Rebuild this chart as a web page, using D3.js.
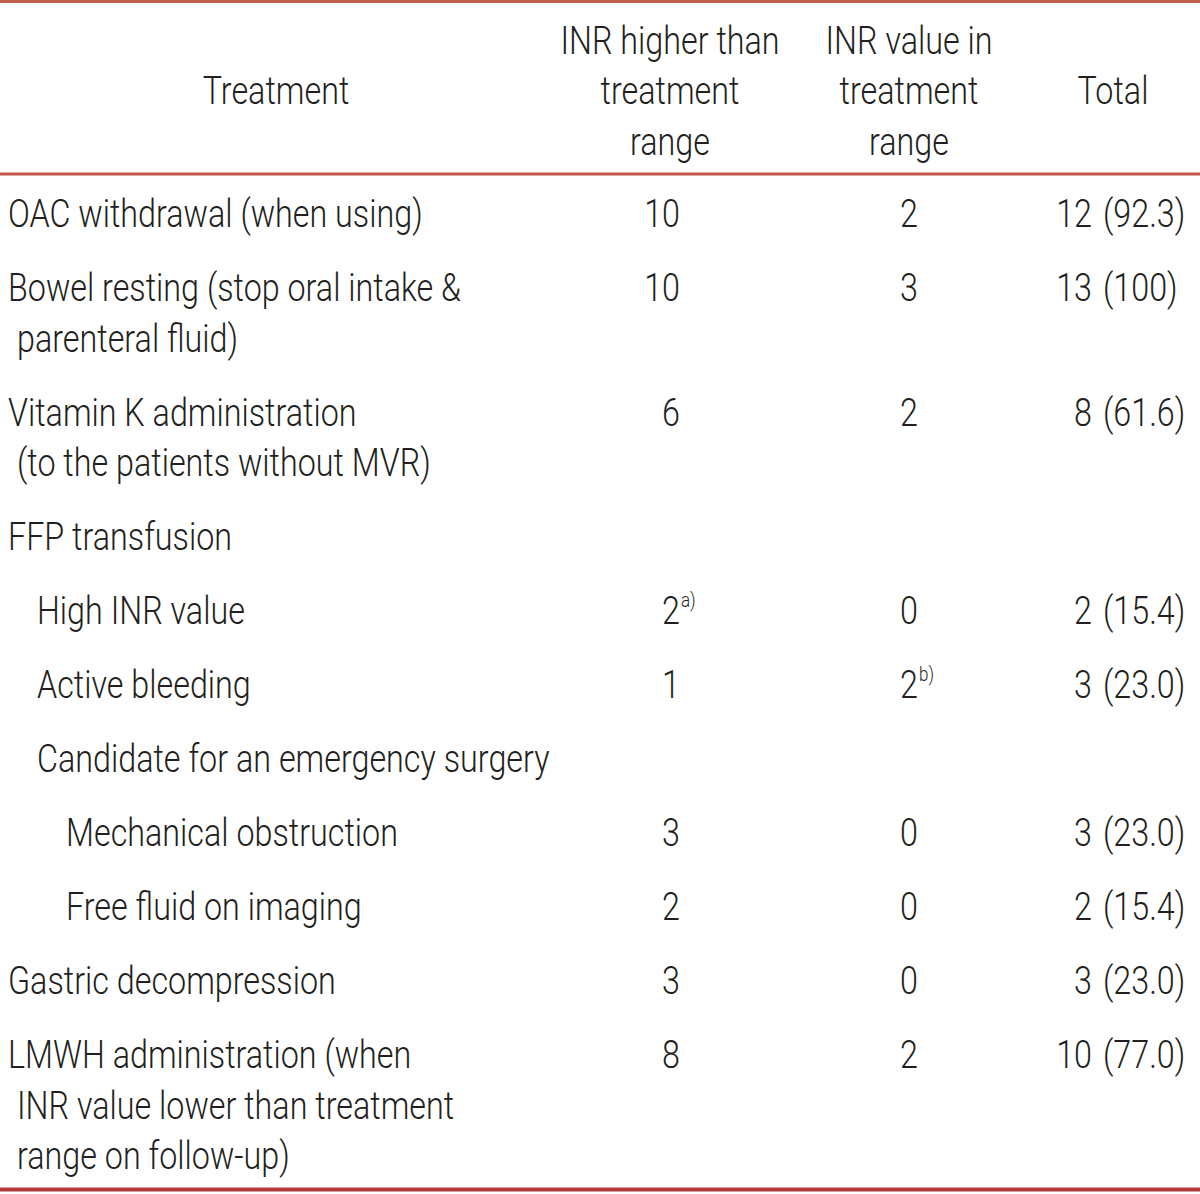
<html>
<head>
<script src="https://d3js.org/d3.v7.min.js"></script>
<style>
  body { margin: 0; background: white; }
  text { font-family: Roboto, "Liberation Sans", sans-serif; font-weight: 300; fill: #231f20; }
</style>
</head>
<body>
<script>
  // table content
  var headers = [["Treatment"], ["INR higher than", "treatment", "range"], ["INR value in", "treatment", "range"], ["Total"]];
  var treatments = [
    ["OAC withdrawal (when using)"],
    ["Bowel resting (stop oral intake &", "parenteral fluid)"],
    ["Vitamin K administration", "(to the patients without MVR)"],
    ["FFP transfusion"],
    ["High INR value"],
    ["Active bleeding"],
    ["Candidate for an emergency surgery"],
    ["Mechanical obstruction"],
    ["Free fluid on imaging"],
    ["Gastric decompression"],
    ["LMWH administration (when", "INR value lower than treatment", "range on follow-up)"]
  ];
  var levels = [0, 0, 0, 0, 1, 1, 1, 2, 2, 0, 0];
  var higher = ["10", "10", "6", "", "2", "1", "", "3", "2", "3", "8"];
  var higherNote = ["", "", "", "", "a)", "", "", "", "", "", ""];
  var inRange = ["2", "3", "2", "", "0", "2", "", "0", "0", "0", "2"];
  var inRangeNote = ["", "", "", "", "", "b)", "", "", "", "", ""];
  var totalN = ["12", "13", "8", "", "2", "3", "", "3", "2", "3", "10"];
  var totalPct = ["(92.3)", "(100)", "(61.6)", "", "(15.4)", "(23.0)", "", "(23.0)", "(15.4)", "(23.0)", "(77.0)"];

  var width = 1200, height = 1194;
  var fs = 38, sx = 0.85, lineH = 50.5, rowH = 74;

  var svg = d3.select("body").append("svg").attr("width", width).attr("height", height);

  // column positions
  var headX = d3.scaleOrdinal().domain([0, 1, 2, 3]).range([276, 670, 909, 1113]);
  var indentX = d3.scaleOrdinal().domain([0, 1, 2]).range([8, 37, 66]);

  // row baselines
  var rowHeights = treatments.map(function(t) { return rowH + lineH * (t.length - 1); });
  var starts = [0].concat(Array.from(d3.cumsum(rowHeights)).slice(0, -1));
  var ys = d3.scaleLinear().domain([0, 1]).range([227, 228]);

  function put(x, y, str, anchor, size) {
    var g = svg.append("g").attr("transform", "translate(" + x + "," + y + ") scale(" + sx + ",1)");
    g.append("text").attr("text-anchor", anchor).style("font-size", (size || fs) + "px").text(str);
    return g;
  }

  // rules
  svg.append("line").attr("x1", 0).attr("x2", width).attr("y1", 1.5).attr("y2", 1.5)
    .attr("stroke", "#c0604f").attr("stroke-width", 3);
  svg.append("line").attr("x1", 0).attr("x2", width).attr("y1", 174).attr("y2", 174)
    .attr("stroke", "#c05a4b").attr("stroke-width", 3);
  svg.append("line").attr("x1", 0).attr("x2", width).attr("y1", 1189.5).attr("y2", 1189.5)
    .attr("stroke", "#b23c3c").attr("stroke-width", 4);

  // header
  headers.forEach(function(h, c) {
    var top = h.length == 1 ? 104 : 53.5;
    h.forEach(function(s, k) { put(headX(c), top + k * lineH, s, "middle"); });
  });

  // body
  treatments.forEach(function(t, i) {
    var y0 = ys(starts[i]);
    t.forEach(function(s, k) {
      put(indentX(levels[i]) + (k > 0 ? 9 : 0), y0 + k * lineH, s, "start");
    });
    if (higher[i]) {
      put(680, y0, higher[i], "end");
      if (higherNote[i]) put(681, y0 - 17, higherNote[i], "start", 20);
    }
    if (inRange[i]) {
      put(918, y0, inRange[i], "end");
      if (inRangeNote[i]) put(919, y0 - 17, inRangeNote[i], "start", 20);
    }
    if (totalN[i]) {
      put(1092, y0, totalN[i], "end");
      put(1103, y0, totalPct[i], "start");
    }
  });
</script>
</body>
</html>
